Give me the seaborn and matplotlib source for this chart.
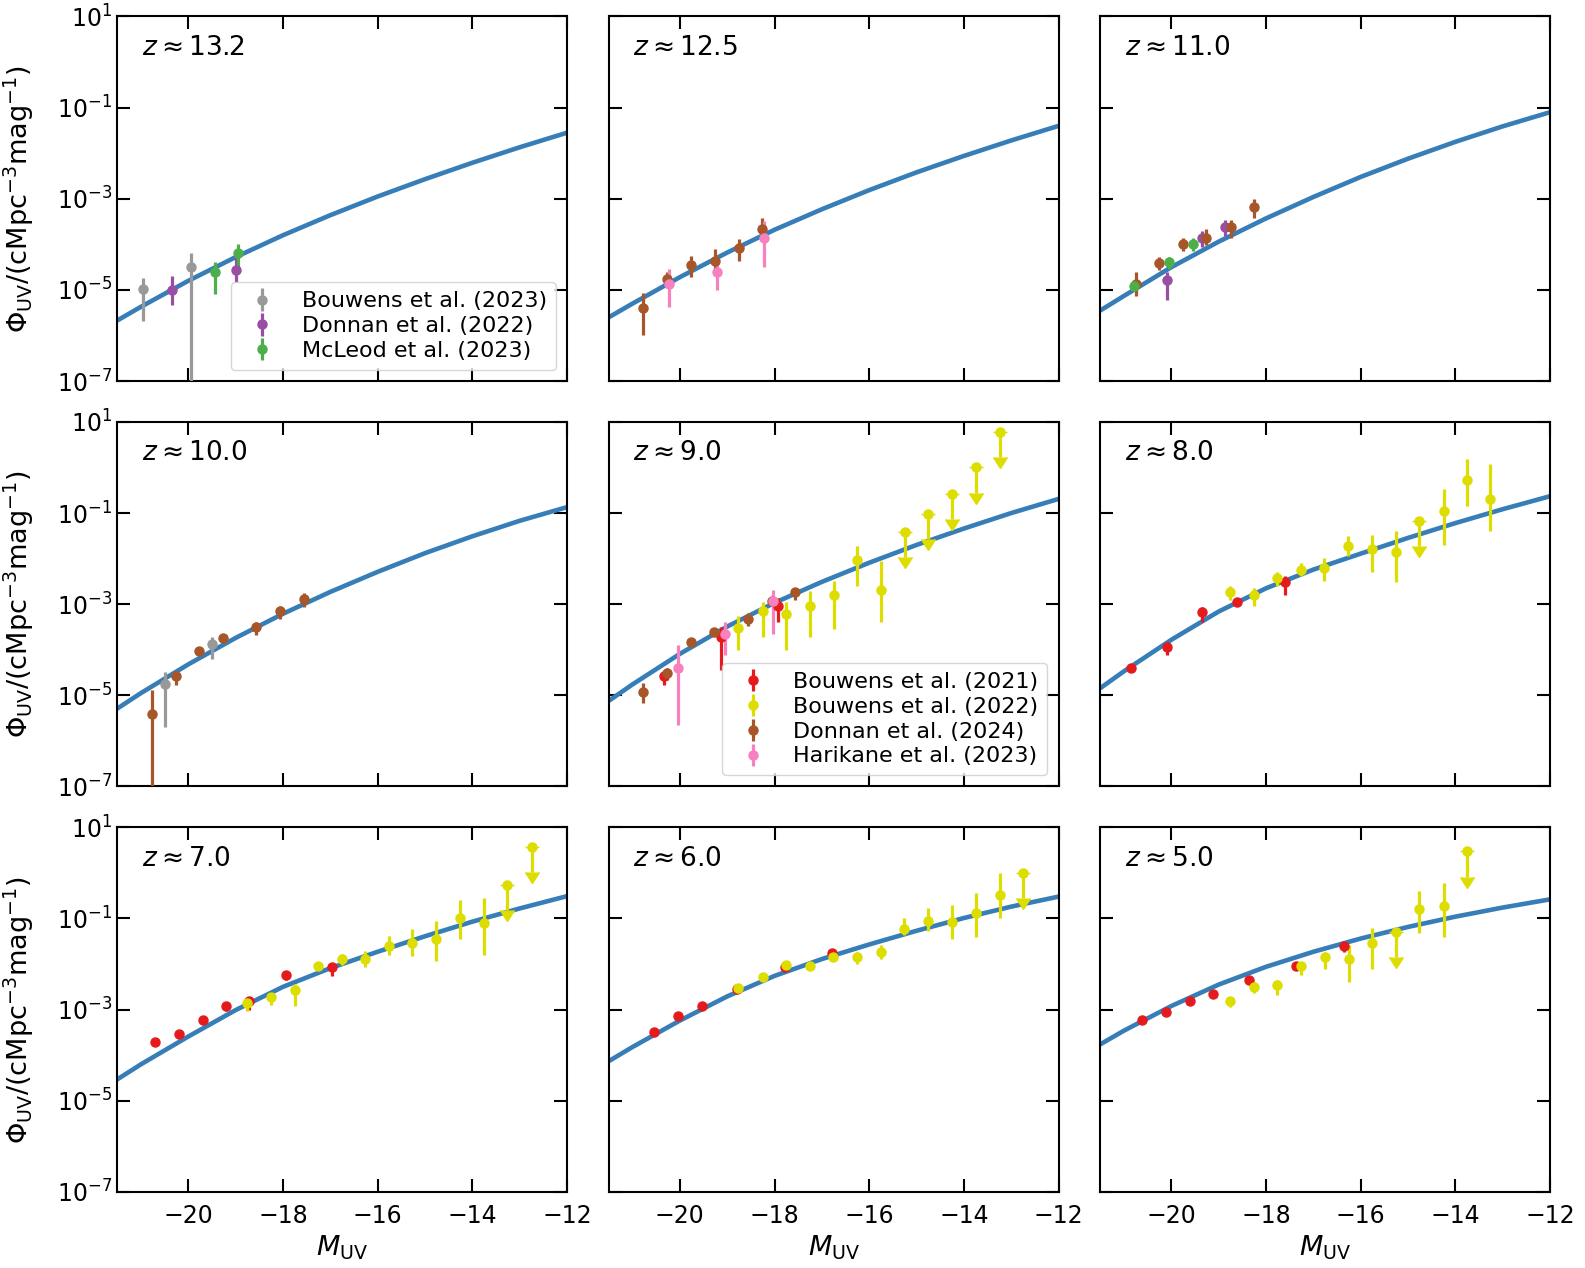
import numpy as np
import matplotlib.pyplot as plt
from matplotlib.ticker import NullLocator
import seaborn as sns

# model curves at 1-mag steps
model_M = [-21.5, -21.0, -20.0, -19.0, -18.0, -17.0, -16.0, -15.0, -14.0, -13.0, -12.0]
z132_model_logphi = [-5.67, -5.37, -4.80, -4.28, -3.80, -3.36, -2.95, -2.57, -2.21, -1.87, -1.55]
z125_model_logphi = [-5.60, -5.30, -4.72, -4.18, -3.68, -3.23, -2.81, -2.42, -2.06, -1.72, -1.40]
z110_model_logphi = [-5.45, -5.13, -4.50, -3.94, -3.43, -2.96, -2.52, -2.12, -1.75, -1.41, -1.10]
z100_model_logphi = [-5.29, -4.95, -4.32, -3.74, -3.21, -2.73, -2.29, -1.88, -1.51, -1.17, -0.87]
z90_model_logphi = [-5.12, -4.76, -4.09, -3.49, -2.97, -2.51, -2.09, -1.70, -1.34, -1.00, -0.69]
z80_model_logphi = [-4.84, -4.47, -3.78, -3.16, -2.65, -2.24, -1.89, -1.545, -1.22, -0.915, -0.63]
z70_model_logphi = [-4.53, -4.20, -3.59, -3.01, -2.50, -2.09, -1.73, -1.39, -1.07, -0.78, -0.51]
z60_model_logphi = [-4.13, -3.82, -3.24, -2.71, -2.26, -1.89, -1.57, -1.27, -0.99, -0.74, -0.52]
z50_model_logphi = [-3.76, -3.46, -2.92, -2.45, -2.06, -1.73, -1.44, -1.185, -0.96, -0.76, -0.58]

# rows are [M_UV, log10 phi, log10 lower, log10 upper]
# ---- z ~ 13.2
z132_bouwens23 = [[-20.95, -4.99, -5.69, -4.74], [-19.95, -4.49, -9.0, -4.20]]
z132_donnan22 = [[-20.35, -5.00, -5.32, -4.70], [-19.00, -4.56, -4.83, -4.25]]
z132_mcleod23 = [[-19.44, -4.60, -5.09, -4.39], [-18.95, -4.20, -4.50, -3.99]]

# ---- z ~ 12.5
z125_donnan24 = [[-20.77, -5.39, -5.99, -5.07], [-20.28, -4.77, -4.94, -4.61],
                 [-19.76, -4.45, -4.72, -4.25], [-19.25, -4.37, -4.61, -4.10],
                 [-18.76, -4.09, -4.36, -3.88], [-18.26, -3.66, -3.88, -3.43]]
z125_harikane23 = [[-20.23, -4.87, -5.38, -4.53], [-19.22, -4.61, -5.00, -4.39],
                   [-18.22, -3.85, -4.49, -3.48]]

# ---- z ~ 11.0
z110_donnan22 = [[-20.10, -4.78, -5.23, -4.61], [-19.35, -3.85, -4.05, -3.70],
                 [-18.86, -3.63, -3.81, -3.47]]
z110_donnan24 = [[-20.75, -4.87, -5.14, -4.61], [-20.26, -4.42, -4.56, -4.27],
                 [-19.75, -3.99, -4.14, -3.87], [-19.26, -3.85, -4.01, -3.66],
                 [-18.75, -3.63, -3.85, -3.46], [-18.26, -3.19, -3.43, -3.00]]
z110_mcleod23 = [[-20.80, -4.91, -5.02, -4.80], [-20.06, -4.39, -4.53, -4.28],
                 [-19.55, -3.99, -4.14, -3.87]]

# ---- z ~ 10.0
z100_bouwens23 = [[-20.49, -4.74, -5.70, -4.49], [-19.50, -3.88, -4.20, -3.72]]
z100_donnan24 = [[-20.77, -5.40, -9.0, -4.88], [-20.26, -4.57, -4.77, -4.47],
                 [-19.77, -4.03, -4.13, -3.96], [-19.26, -3.74, -3.83, -3.67],
                 [-18.56, -3.50, -3.67, -3.38], [-18.06, -3.14, -3.32, -3.05],
                 [-17.55, -2.88, -3.06, -2.75]]

# ---- z ~ 9.0
z90_bouwens21 = [[-20.33, -4.58, -4.77, -4.47], [-19.13, -3.73, -4.44, -3.49],
                 [-17.93, -3.03, -3.38, -2.86]]
z90_bouwens22 = [[-18.77, -3.52, -4.00, -3.25], [-18.25, -3.16, -3.71, -2.95],
                 [-17.76, -3.22, -4.00, -2.96], [-17.25, -3.05, -3.71, -2.72],
                 [-16.75, -2.79, -3.54, -2.50], [-16.25, -2.04, -2.59, -1.73],
                 [-15.76, -2.68, -3.40, -2.06]]
z90_bouwens22_ul = [[-15.25, -1.42], [-14.76, -1.01], [-14.25, -0.58],
                    [-13.75, 0.00], [-13.24, 0.77]]
z90_donnan24 = [[-20.77, -4.93, -5.17, -4.72], [-20.28, -4.50, -4.66, -4.41],
                [-19.77, -3.83, -3.90, -3.76], [-19.27, -3.61, -3.69, -3.52],
                [-18.55, -3.33, -3.47, -3.20], [-18.06, -2.94, -3.05, -2.87],
                [-17.56, -2.74, -2.90, -2.64]]
z90_harikane23 = [[-20.04, -4.39, -5.64, -3.89], [-19.04, -3.65, -4.11, -3.40],
                  [-18.04, -2.94, -3.65, -2.68]]

# ---- z ~ 8.0
z80_bouwens21 = [[-20.86, -4.39, -4.49, -4.32], [-20.10, -3.93, -4.11, -3.82],
                 [-19.35, -3.18, -3.38, -3.07], [-18.61, -2.95, -3.04, -2.86],
                 [-17.61, -2.51, -2.79, -2.39]]
z80_bouwens22 = [[-18.76, -2.74, -2.90, -2.61], [-18.26, -2.79, -3.05, -2.64],
                 [-17.76, -2.43, -2.60, -2.30], [-17.26, -2.24, -2.39, -2.10],
                 [-16.77, -2.21, -2.48, -1.99], [-16.26, -1.72, -1.95, -1.50],
                 [-15.76, -1.79, -2.30, -1.48], [-15.25, -1.86, -2.52, -1.40],
                 [-14.25, -0.95, -1.69, -0.47], [-13.76, -0.27, -0.85, 0.18],
                 [-13.26, -0.69, -1.40, 0.08]]
z80_bouwens22_ul = [[-14.76, -1.17]]

# ---- z ~ 7.0
z70_bouwens21 = [[-20.70, -3.70, -3.75, -3.65], [-20.20, -3.54, -3.60, -3.49],
                 [-19.70, -3.23, -3.29, -3.18], [-19.21, -2.93, -3.04, -2.85],
                 [-18.71, -2.82, -3.01, -2.75], [-17.94, -2.24, -2.35, -2.17],
                 [-16.96, -2.07, -2.26, -1.99]]
z70_bouwens22 = [[-18.76, -2.85, -3.04, -2.75], [-18.26, -2.73, -2.89, -2.63],
                 [-17.75, -2.58, -2.92, -2.44], [-17.26, -2.04, -2.08, -2.00],
                 [-16.76, -1.89, -2.02, -1.77], [-16.27, -1.90, -2.06, -1.72],
                 [-15.76, -1.61, -1.80, -1.39], [-15.27, -1.53, -1.83, -1.22],
                 [-14.76, -1.44, -1.93, -1.06], [-14.26, -1.00, -1.46, -0.60],
                 [-13.76, -1.09, -1.80, -0.54]]
z70_bouwens22_ul = [[-13.26, -0.26], [-12.75, 0.57]]

# ---- z ~ 6.0
z60_bouwens21 = [[-20.54, -3.48, -3.53, -3.43], [-20.04, -3.14, -3.19, -3.09],
                 [-19.54, -2.93, -2.98, -2.88], [-18.79, -2.55, -2.60, -2.50],
                 [-17.78, -2.07, -2.12, -2.02], [-16.78, -1.75, -1.80, -1.70]]
z60_bouwens22 = [[-18.77, -2.53, -2.58, -2.48], [-18.25, -2.29, -2.34, -2.24],
                 [-17.76, -2.02, -2.07, -1.97], [-17.25, -2.04, -2.09, -1.99],
                 [-16.76, -1.85, -1.91, -1.80], [-16.25, -1.84, -2.00, -1.73],
                 [-15.75, -1.73, -1.89, -1.58], [-15.26, -1.22, -1.36, -1.00],
                 [-14.75, -1.06, -1.27, -0.78], [-14.25, -1.07, -1.44, -0.70],
                 [-13.75, -0.88, -1.40, -0.44], [-13.24, -0.49, -1.00, -0.01]]
z60_bouwens22_ul = [[-12.75, -0.01]]

# ---- z ~ 5.0
z50_bouwens21 = [[-20.62, -3.23, -3.28, -3.18], [-20.11, -3.06, -3.11, -3.01],
                 [-19.61, -2.80, -2.85, -2.75], [-19.12, -2.66, -2.71, -2.61],
                 [-18.36, -2.35, -2.40, -2.30], [-17.36, -2.04, -2.09, -1.99],
                 [-16.36, -1.61, -1.73, -1.53]]
z50_bouwens22 = [[-18.76, -2.80, -2.95, -2.72], [-18.26, -2.50, -2.64, -2.39],
                 [-17.76, -2.47, -2.68, -2.35], [-17.27, -2.04, -2.23, -1.95],
                 [-16.76, -1.85, -2.10, -1.73], [-16.25, -1.89, -2.40, -1.58],
                 [-15.76, -1.53, -2.11, -1.20], [-14.76, -0.80, -1.31, -0.40],
                 [-14.25, -0.73, -1.40, -0.23]]
z50_bouwens22_ul = [[-15.25, -1.29], [-13.76, 0.47]]

colors = {
    "Bouwens et al. (2021)": "#e41a1c",
    "Bouwens et al. (2022)": "#dddd00",
    "Bouwens et al. (2023)": "#999999",
    "Donnan et al. (2022)": "#984ea3",
    "Donnan et al. (2024)": "#a65628",
    "Harikane et al. (2023)": "#f781bf",
    "McLeod et al. (2023)": "#4daf4a",
}

panels = [
    ("13.2", z132_model_logphi,
     {"Bouwens et al. (2023)": z132_bouwens23, "Donnan et al. (2022)": z132_donnan22,
      "McLeod et al. (2023)": z132_mcleod23}, [], True),
    ("12.5", z125_model_logphi,
     {"Donnan et al. (2024)": z125_donnan24, "Harikane et al. (2023)": z125_harikane23}, [], False),
    ("11.0", z110_model_logphi,
     {"Donnan et al. (2022)": z110_donnan22, "Donnan et al. (2024)": z110_donnan24,
      "McLeod et al. (2023)": z110_mcleod23}, [], False),
    ("10.0", z100_model_logphi,
     {"Bouwens et al. (2023)": z100_bouwens23, "Donnan et al. (2024)": z100_donnan24}, [], False),
    ("9.0", z90_model_logphi,
     {"Bouwens et al. (2021)": z90_bouwens21, "Bouwens et al. (2022)": z90_bouwens22,
      "Donnan et al. (2024)": z90_donnan24, "Harikane et al. (2023)": z90_harikane23},
     z90_bouwens22_ul, True),
    ("8.0", z80_model_logphi,
     {"Bouwens et al. (2021)": z80_bouwens21, "Bouwens et al. (2022)": z80_bouwens22},
     z80_bouwens22_ul, False),
    ("7.0", z70_model_logphi,
     {"Bouwens et al. (2021)": z70_bouwens21, "Bouwens et al. (2022)": z70_bouwens22},
     z70_bouwens22_ul, False),
    ("6.0", z60_model_logphi,
     {"Bouwens et al. (2021)": z60_bouwens21, "Bouwens et al. (2022)": z60_bouwens22},
     z60_bouwens22_ul, False),
    ("5.0", z50_model_logphi,
     {"Bouwens et al. (2021)": z50_bouwens21, "Bouwens et al. (2022)": z50_bouwens22},
     z50_bouwens22_ul, False),
]

sns.set_style("ticks", {"xtick.direction": "in", "ytick.direction": "in",
                        "axes.edgecolor": "black", "xtick.color": "black",
                        "ytick.color": "black", "text.color": "black",
                        "axes.labelcolor": "black"})
plt.rcParams["font.family"] = ["DejaVu Sans"]
plt.rcParams["mathtext.fontset"] = "dejavusans"

fig, axes = plt.subplots(3, 3, figsize=(15.85, 12.68), dpi=100, sharex=True, sharey=True)
fig.subplots_adjust(left=0.074, right=0.978, top=0.987, bottom=0.060,
                    wspace=0.093, hspace=0.112)

for ax, (zlab, mod_lp, series, ul, show_leg) in zip(axes.flat, panels):
    ax.set_yscale("log")
    sns.lineplot(x=model_M, y=10 ** np.array(mod_lp), ax=ax, color="#377eb8",
                 lw=3.3, legend=False, zorder=2)
    for name, rows in series.items():
        d = np.array(rows)
        y = 10 ** d[:, 1]
        yerr = [y - 10 ** d[:, 2], 10 ** d[:, 3] - y]
        ax.errorbar(d[:, 0], y, yerr=yerr, fmt="o", ms=6.5, color=colors[name],
                    elinewidth=2.3, capsize=0, label=name, zorder=3)
    if len(ul):
        d = np.array(ul)
        y = 10 ** d[:, 1]
        ax.errorbar(d[:, 0], y, yerr=y * (1 - 10 ** -0.55), uplims=True, fmt="o",
                    ms=6.5, color=colors["Bouwens et al. (2022)"], elinewidth=2.3,
                    capsize=5.2, zorder=3)
    ax.text(0.054, 0.895, r"$z \approx %s$" % zlab, transform=ax.transAxes,
            fontsize=19, va="baseline")
    ax.set_xlim(-21.5, -12)
    ax.set_ylim(1e-7, 10)
    ax.set_xticks([-20, -18, -16, -14, -12])
    ax.set_yticks([1e-7, 1e-5, 1e-3, 1e-1, 1e1])
    ax.yaxis.set_minor_locator(NullLocator())
    ax.tick_params(which="both", direction="in", top=True, right=True,
                   length=9.5, width=1.5, labelsize=17)
    ax.tick_params(axis="x", pad=9)
    for sp in ax.spines.values():
        sp.set_linewidth(1.5)
    if show_leg:
        ax.legend(loc="lower right", fontsize=16, labelspacing=0.22)

for ax in axes[:, 0]:
    ax.set_ylabel(r"$\Phi_{\rm UV}/(\rm cMpc^{-3}mag^{-1})$", fontsize=19.5)
    ax.yaxis.set_label_coords(-0.181, 0.5)
for ax in axes[-1, :]:
    ax.set_xlabel(r"$M_{\rm UV}$", fontsize=19.5)

fig.savefig("out.png", dpi=100)
